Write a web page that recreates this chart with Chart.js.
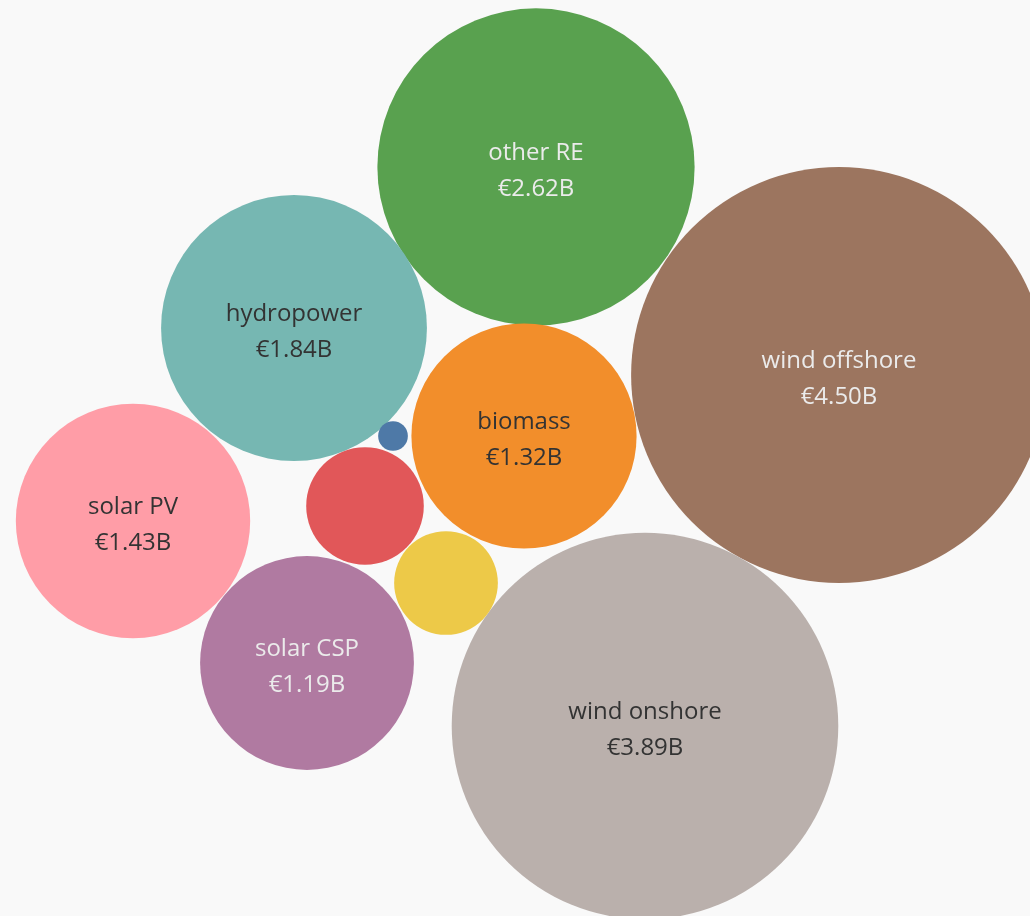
<!DOCTYPE html>
<html>
<head>
<meta charset="utf-8">
<script src="https://cdn.jsdelivr.net/npm/chart.js@4/dist/chart.umd.min.js"></script>
<style>
  html, body { margin: 0; padding: 0; background: #f9f9f9; }
  #wrap { width: 1030px; height: 916px; position: relative; }
</style>
</head>
<body>
<div id="wrap"><canvas id="bubbles"></canvas></div>
<script>
"use strict";

// Investment per technology, in billions of euro
var categories = ['other RE', 'wind offshore', 'wind onshore', 'hydropower', 'biomass', 'solar PV', 'solar CSP', 'geothermal', 'ocean', 'hydrogen'];
var values = [2.62, 4.50, 3.89, 1.84, 1.32, 1.43, 1.19, 0.36, 0.28, 0.023];
// Packed layout centres (layout units, same range as the page)
var packX = [536, 839, 645, 294, 524, 133, 307, 365, 446, 393];
var packY = [167, 375, 726, 328, 436, 521, 663, 506, 583, 436];

var colors = ['#59a14f', '#9c755f', '#bab0ac', '#76b7b2', '#f28e2b', '#ff9da7', '#b07aa1', '#e15759', '#edc948', '#4e79a7'];
var lightText = ['other RE', 'wind offshore', 'solar CSP'];
var radiusScale = 98; // px per sqrt(billion)

var BubbleChart = function () {
    var initChart = function () {
        var element = document.getElementById('bubbles');

        var points = categories.map(function (name, i) {
            return { x: packX[i], y: packY[i], v: values[i], name: name };
        });

        // Draw name and value inside the bubbles big enough to hold them
        var labelPlugin = {
            id: 'bubbleLabels',
            afterDatasetsDraw: function (chart) {
                var ctx = chart.ctx;
                var meta = chart.getDatasetMeta(0);
                ctx.save();
                ctx.textAlign = 'center';
                ctx.textBaseline = 'middle';
                ctx.font = '24px "Open Sans", sans-serif';
                meta.data.forEach(function (el, i) {
                    if (radiusScale * Math.sqrt(values[i]) < 80) {
                        return; // too small for a label
                    }
                    ctx.fillStyle = lightText.indexOf(categories[i]) >= 0 ? '#ebebeb' : '#333333';
                    ctx.fillText(categories[i], el.x, el.y - 14);
                    ctx.fillText('€' + values[i].toFixed(2) + 'B', el.x, el.y + 22);
                });
                ctx.restore();
            }
        };

        var config = {
            type: 'bubble',
            data: {
                datasets: [{
                    data: points,
                    backgroundColor: colors,
                    borderWidth: 0,
                    hoverBorderWidth: 0,
                    clip: false,
                    radius: function (c) {
                        return radiusScale * Math.sqrt(values[c.dataIndex]);
                    }
                }]
            },
            options: {
                responsive: true,
                maintainAspectRatio: false,
                animation: false,
                layout: { padding: 0, autoPadding: false },
                scales: {
                    x: { type: 'linear', min: 0, max: 1030, display: false },
                    y: { type: 'linear', min: 0, max: 916, reverse: true, display: false }
                },
                plugins: {
                    legend: { display: false },
                    tooltip: { enabled: false }
                }
            },
            plugins: [labelPlugin]
        };

        new Chart(element.getContext('2d'), config);
    };

    return {
        init: function () {
            initChart();
        }
    };
}();

document.addEventListener('DOMContentLoaded', function () {
    BubbleChart.init();
});
</script>
</body>
</html>
